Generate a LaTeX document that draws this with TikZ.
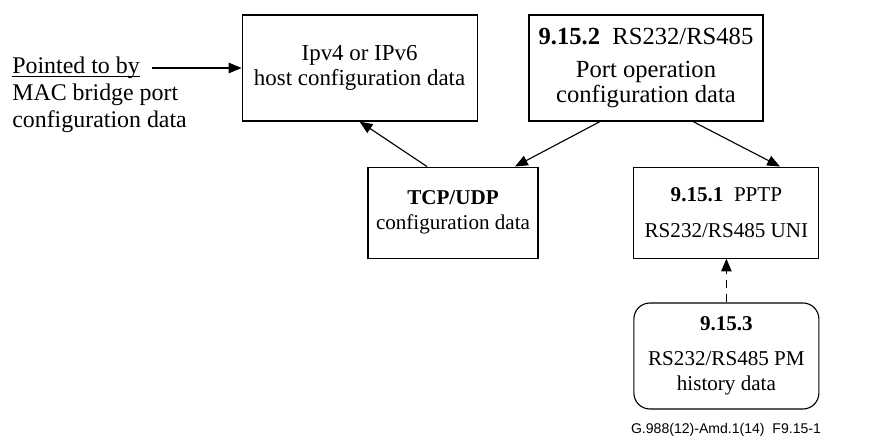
\documentclass[tikz,border=0pt]{standalone}
\usepackage{fontspec}
\setmainfont{Liberation Serif}
\newfontfamily\capfont{Liberation Sans}
\usepackage{tikz}
\usetikzlibrary{positioning,calc,arrows.meta}

% underline just below the baseline
\newcommand{\ulbox}[1]{{\setbox0\hbox{#1}\rlap{\rule[-2.6pt]{\wd0}{0.6pt}}\box0}}

\begin{document}
\begin{tikzpicture}[
box/.style={
    draw,
    line width=0.8pt,
    align=center,
    inner sep=0pt,
    font=\fontsize{15}{18}\selectfont
},
arrow/.style={-{Triangle[length=0.32cm,width=0.26cm]}, line width=0.8pt}
]
\useasboundingbox (0,0) rectangle (22.4,11.025);

\node[box, minimum width=5.875cm, minimum height=2.65cm,
      font=\fontsize{16.3}{18}\selectfont] (host) at (8.99,9.325) {
Ipv4 or IPv6\\
host configuration data
};

\node[box, minimum width=5.85cm, minimum height=2.65cm,
      font=\fontsize{17.5}{18}\selectfont] (port) at (16.15,9.325) {
\textbf{9.15.2}~~RS232/RS485\\[5.5pt]
Port operation\\
configuration data
};

\node[box, minimum width=4.25cm, minimum height=2.275cm] (tcp) at (11.325,5.71) {
\textbf{TCP/UDP}\\
configuration data
};

\node[box, minimum width=4.625cm, minimum height=2.275cm] (pptp) at (18.16,5.71) {
\textbf{9.15.1}~~PPTP\\[7pt]
RS232/RS485 UNI
};

\node[box, rounded corners=0.4cm, minimum width=4.625cm, minimum height=2.65cm] (pm) at (18.16,2.125) {
\textbf{9.15.3}\\[7pt]
RS232/RS485 PM\\
history data
};

\node[align=left, anchor=north west, inner sep=0pt,
      font=\fontsize{17}{19.5}\selectfont] (ptr) at (0.3,9.62) {
\ulbox{Pointed to by}\\
MAC bridge port\\
configuration data
};
\coordinate (ptrend) at (3.8,9.325);

\node[anchor=base east, inner sep=0pt, font=\capfont\fontsize{10}{12}\selectfont] (cap) at (20.53,0.2) {G.988(12)-Amd.1(14)~~F9.15-1};

\draw[arrow] (ptrend) -- (host.west);
\draw[arrow] ($(tcp.north)+(-0.65,0)$) -- (host.south);
\draw[arrow] ($(port.south)+(-1.15,0)$) -- ($(tcp.north)+(1.55,0)$);
\draw[arrow] ($(port.south)+(1.175,0)$) -- ($(pptp.north)+(1.34,0)$);
\draw[arrow, dashed, dash pattern=on 6pt off 4pt] (pm.north) -- (pptp.south);

\end{tikzpicture}
\end{document}
